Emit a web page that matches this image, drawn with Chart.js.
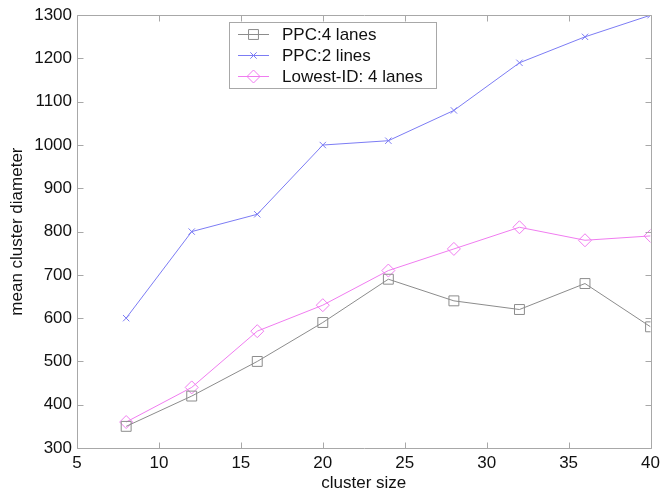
<!DOCTYPE html>
<html>
<head>
<meta charset="utf-8">
<script src="https://cdn.jsdelivr.net/npm/chart.js@4/dist/chart.umd.min.js"></script>
<style>
html,body{margin:0;padding:0;background:#fff;}
#wrap{width:665px;height:495px;}
</style>
</head>
<body>
<div id="wrap"><canvas id="c" width="665" height="495"></canvas></div>
<script>
const clusterSizes = [8, 12, 16, 20, 24, 28, 32, 36, 40];
const ppc4Lanes   = [350, 420, 500, 590, 690, 640, 620, 680, 580];
const ppc2Lines   = [600, 800, 840, 1000, 1010, 1080, 1190, 1250, 1300];
const lowestId4   = [360, 440, 570, 630, 710, 760, 810, 780, 790];
const seriesNames = ['PPC:4 lanes', 'PPC:2 lines', 'Lowest-ID: 4 lanes'];
const xTicks = [5, 10, 15, 20, 25, 30, 35, 40];
const yTicks = [300, 400, 500, 600, 700, 800, 900, 1000, 1100, 1200, 1300];

const FONT = "'Liberation Sans', Arial, Helvetica, sans-serif";
const toPts = arr => arr.map((v, i) => ({x: clusterSizes[i], y: v}));

const frameTicks = {
  id: 'frameTicks',
  afterDatasetsDraw(chart) {
    const {ctx, chartArea: a, scales} = chart;
    ctx.save();
    ctx.strokeStyle = '#a8a8a8';
    ctx.lineWidth = 1;
    const L = Math.round(a.left) + 0.5, R = Math.round(a.right) + 0.5;
    const T = Math.round(a.top) + 0.5, B = Math.round(a.bottom) + 0.5;
    ctx.beginPath();
    ctx.rect(L, T, R - L, B - T);
    const tl = 6;
    xTicks.forEach(v => {
      const px = Math.round(scales.x.getPixelForValue(v)) + 0.5;
      ctx.moveTo(px, B); ctx.lineTo(px, B - tl);
      ctx.moveTo(px, T); ctx.lineTo(px, T + tl);
    });
    yTicks.forEach(v => {
      const py = Math.round(scales.y.getPixelForValue(v)) + 0.5;
      ctx.moveTo(L, py); ctx.lineTo(L + tl, py);
      ctx.moveTo(R, py); ctx.lineTo(R - tl, py);
    });
    ctx.stroke();
    ctx.restore();
  }
};

const boxLegend = {
  id: 'boxLegend',
  afterDraw(chart) {
    const {ctx} = chart;
    const bx = 229.5, by = 22.5, bw = 207, bh = 66;
    ctx.save();
    ctx.fillStyle = '#fff';
    ctx.fillRect(bx, by, bw, bh);
    ctx.strokeStyle = '#a8a8a8';
    ctx.lineWidth = 1;
    ctx.strokeRect(bx, by, bw, bh);
    const rows = [34, 55, 76];
    chart.data.datasets.forEach((ds, i) => {
      const y = rows[i] + 0.5;
      ctx.strokeStyle = ds.borderColor;
      ctx.lineWidth = 1;
      ctx.beginPath();
      ctx.moveTo(238, y); ctx.lineTo(269, y);
      ctx.stroke();
      ctx.fillStyle = 'rgba(0,0,0,0)';
      ctx.strokeStyle = ds.borderColor;
      Chart.helpers.drawPoint(ctx, {
        pointStyle: ds.pointStyle, radius: ds.pointRadius, borderWidth: 1, rotation: 0
      }, 253.5, y);
      ctx.font = '17px ' + FONT;
      ctx.textBaseline = 'middle';
      ctx.textAlign = 'left';
      ctx.fillStyle = '#111';
      ctx.fillText(ds.label, 282, rows[i] + 1);
    });
    ctx.restore();
  }
};

function ds(label, data, color, style, r) {
  return {
    label, data: toPts(data), borderColor: color, backgroundColor: 'rgba(0,0,0,0)',
    pointBorderColor: color, pointBackgroundColor: 'rgba(0,0,0,0)',
    borderWidth: 1, pointBorderWidth: 1, pointStyle: style, pointRadius: r,
    pointHoverRadius: r, tension: 0, fill: false
  };
}

new Chart(document.getElementById('c'), {
  type: 'line',
  data: {
    datasets: [
      ds(seriesNames[0], ppc4Lanes, '#8c8c8c', 'rect', 7),
      ds(seriesNames[1], ppc2Lines, '#7c7cf4', 'crossRot', 4.5),
      ds(seriesNames[2], lowestId4, '#f07cf0', 'rectRot', 6.5)
    ]
  },
  options: {
    responsive: false,
    animation: false,
    devicePixelRatio: 1,
    layout: {padding: {top: 14, right: 10, left: 0, bottom: 0}},
    plugins: {legend: {display: false}, tooltip: {enabled: false}},
    scales: {
      x: {
        type: 'linear', min: 5, max: 40,
        afterBuildTicks: s => { s.ticks = xTicks.map(v => ({value: v})); },
        afterFit: s => { s.height = 47; },
        grid: {display: false, drawTicks: false},
        border: {display: false},
        ticks: {padding: 5, color: '#111', font: {family: FONT, size: 17}, maxRotation: 0,
                callback: v => String(v)},
        title: {display: true, text: 'cluster size', color: '#111', font: {family: FONT, size: 17}, padding: {top: 0, bottom: 1}}
      },
      y: {
        type: 'linear', min: 300, max: 1300,
        afterBuildTicks: s => { s.ticks = yTicks.map(v => ({value: v})); },
        afterFit: s => { s.width = 77; },
        grid: {display: false, drawTicks: false},
        border: {display: false},
        ticks: {padding: 5, color: '#111', font: {family: FONT, size: 17},
                callback: v => String(v)},
        title: {display: true, text: 'mean cluster diameter', color: '#111', font: {family: FONT, size: 17}, padding: {top: 7, bottom: 0}}
      }
    }
  },
  plugins: [frameTicks, boxLegend]
});
</script>
</body>
</html>
